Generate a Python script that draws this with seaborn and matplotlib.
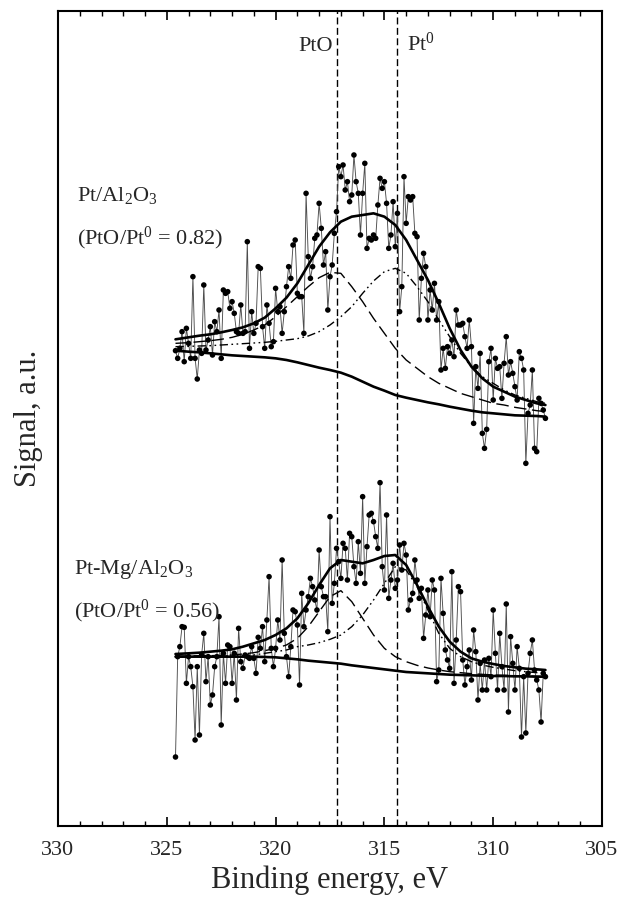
import numpy as np
import pandas as pd
import matplotlib
matplotlib.use("Agg")
import matplotlib.pyplot as plt
from matplotlib.ticker import MultipleLocator
import seaborn as sns

# ---------------- data ----------------
# measured energy grid: 324.6 -> 307.6 eV, 0.1 eV step
energy = np.round(np.arange(324.6, 307.55, -0.1), 1)

signal_pt_al = [
    1426, 1403, 1433, 1483, 1393, 1493, 1448, 1403, 1648, 1403,
    1341, 1428, 1418, 1623, 1428, 1458, 1498, 1413, 1513, 1483,
    1548, 1403, 1608, 1598, 1603, 1553, 1573, 1538, 1483, 1478,
    1563, 1478, 1483, 1753, 1433, 1543, 1478, 1508, 1678, 1673,
    1498, 1433, 1563, 1508, 1438, 1453, 1613, 1543, 1558, 1478,
    1543, 1618, 1678, 1643, 1743, 1758, 1598, 1588, 1588, 1478,
    1898, 1708, 1643, 1678, 1763, 1773, 1868, 1793, 1683, 1723,
    1548, 1648, 1683, 1778, 1843, 1978, 1948, 1983, 1908, 1933,
    1873, 1893, 2013, 1933, 1898, 1773, 1898, 1988, 1733, 1763,
    1758, 1773, 1763, 1863, 1943, 1913, 1933, 1868, 1733, 1773,
    1873, 1738, 1838, 1543, 1618, 1948, 1808, 1888, 1878, 1888,
    1778, 1768, 1518, 1643, 1718, 1678, 1518, 1608, 1548, 1628,
    1518, 1573, 1368, 1433, 1373, 1438, 1418, 1458, 1408, 1548,
    1503, 1503, 1508, 1468, 1433, 1518, 1438, 1208, 1378, 1313,
    1418, 1178, 1133, 1190, 1393, 1433, 1278, 1403, 1373, 1378,
    1283, 1388, 1468, 1353, 1393, 1358, 1318, 1278, 1423, 1403,
    1368, 1088, 1238, 1263, 1368, 1133, 1123, 1283, 1268, 1248,
    1223,
]

signal_ptmg_al = [
    207, 508, 538, 598, 596, 428, 508, 478, 418, 258,
    478, 273, 513, 578, 433, 508, 363, 393, 478, 508,
    628, 303, 518, 428, 543, 538, 428, 518, 378, 593,
    493, 473, 513, 508, 503, 538, 503, 458, 566, 533,
    598, 493, 618, 748, 533, 478, 533, 618, 558, 798,
    578, 508, 448, 538, 648, 643, 603, 423, 698, 598,
    648, 688, 743, 718, 678, 648, 828, 718, 688, 688,
    583, 928, 668, 728, 833, 793, 743, 848, 833, 738,
    878, 868, 778, 728, 853, 758, 988, 728, 838, 933,
    938, 913, 868, 833, 1030, 778, 708, 933, 683, 738,
    788, 713, 738, 843, 768, 848, 813, 648, 678, 698,
    798, 738, 683, 713, 563, 633, 708, 628, 738, 708,
    433, 468, 743, 638, 528, 498, 473, 763, 428, 558,
    718, 703, 498, 423, 478, 528, 438, 588, 523, 378,
    488, 408, 498, 408, 503, 448, 648, 518, 408, 578,
    478, 408, 666, 342, 568, 488, 408, 538, 473, 267,
    448, 279, 458, 518, 558, 468, 438, 408, 312, 458,
    448,
]

# fitted curves, read at these energies
fit_energy = [324.6, 324.0, 323.5, 323.0, 322.5, 322.0, 321.5, 321.0, 320.5,
              320.0, 319.5, 319.0, 318.5, 318.0, 317.5, 317.0, 316.5, 316.0,
              315.5, 315.0, 314.5, 314.0, 313.5, 313.0, 312.5, 312.0, 311.5,
              311.0, 310.5, 310.0, 309.5, 309.0, 308.5, 308.0, 307.6]

# Pt/Al2O3
env_a = [1460, 1466, 1471, 1475, 1481, 1488, 1496, 1508, 1525, 1553, 1585, 1628,
         1683, 1738, 1781, 1813, 1828, 1833, 1838, 1828, 1803, 1758, 1698, 1638,
         1568, 1493, 1428, 1378, 1343, 1318, 1303, 1288, 1278, 1268, 1263]
bg_a = [1426, 1423, 1421, 1418, 1415, 1412, 1410, 1408, 1406, 1403, 1398, 1391,
        1383, 1375, 1368, 1360, 1348, 1333, 1318, 1306, 1293, 1285, 1278, 1271,
        1265, 1258, 1252, 1246, 1241, 1238, 1235, 1232, 1231, 1230, 1228]
pto_a = [1448, 1450, 1453, 1456, 1460, 1466, 1475, 1488, 1503, 1528, 1558, 1588,
         1618, 1645, 1661, 1658, 1618, 1573, 1523, 1478, 1433, 1398, 1373, 1348,
         1328, 1313, 1298, 1288, 1278, 1268, 1263, 1256, 1251, 1246, 1243]
pt0_a = [1438, 1439, 1440, 1441, 1443, 1445, 1447, 1449, 1451, 1454, 1458, 1462,
         1470, 1483, 1503, 1528, 1558, 1598, 1635, 1663, 1673, 1658, 1618, 1573,
         1518, 1468, 1418, 1378, 1348, 1328, 1308, 1293, 1283, 1273, 1268]

# Pt-Mg/Al2O3
env_b = [516, 518, 520, 523, 526, 530, 538, 548, 558, 573, 593, 623, 668, 723,
         773, 798, 793, 788, 798, 810, 813, 783, 723, 658, 598, 553, 523, 503,
         493, 486, 480, 476, 472, 470, 468]
bg_b = [508, 508, 508, 508, 508, 508, 508, 508, 507, 506, 503, 500, 496, 493,
        490, 487, 482, 478, 474, 470, 466, 462, 460, 458, 456, 454, 453, 452,
        451, 450, 450, 449, 449, 448, 448]
pto_b = [510, 510, 511, 511, 512, 513, 516, 520, 526, 533, 543, 563, 598, 643,
         688, 706, 673, 623, 573, 533, 508, 493, 482, 474, 468, 463, 460, 457,
         455, 453, 452, 451, 450, 449, 448]
pt0_b = [508, 508, 509, 509, 510, 510, 511, 513, 518, 523, 528, 538, 543, 550,
         560, 573, 598, 633, 678, 728, 778, 768, 718, 648, 578, 533, 508, 493,
         483, 476, 471, 466, 463, 460, 458]

ref_lines = [317.2, 314.4]
ref_labels = ["PtO", r"Pt$\mathregular{^0}$"]
sample_labels = [r"Pt/Al$\mathregular{_2}$O$\mathregular{_3}$",
                 r"(PtO/Pt$\mathregular{^0}$ = 0.82)",
                 r"Pt-Mg/Al$\mathregular{_2}$O$\mathregular{_3}$",
                 r"(PtO/Pt$\mathregular{^0}$ = 0.56)"]
x_ticks = [330, 325, 320, 315, 310, 305]

# ---------------- plotting ----------------
sns.set_style("ticks")
plt.rcParams["font.family"] = ["Liberation Serif", "DejaVu Serif"]
plt.rcParams["axes.linewidth"] = 1.5

fig = plt.figure(figsize=(6.2, 9.06), dpi=100)
ax = fig.add_axes([58 / 620, 1 - 826 / 906, 544 / 620, 815 / 906])

for sig in (signal_pt_al, signal_ptmg_al):
    df = pd.DataFrame({"E": energy, "S": sig})
    sns.lineplot(data=df, x="E", y="S", ax=ax, sort=False, estimator=None,
                 color="0.3", lw=0.65, zorder=2)
    sns.scatterplot(data=df, x="E", y="S", ax=ax, color="k", s=16,
                    edgecolor="none", zorder=3)

fit = pd.DataFrame({"E": fit_energy, "env_a": env_a, "bg_a": bg_a,
                    "pto_a": pto_a, "pt0_a": pt0_a, "env_b": env_b,
                    "bg_b": bg_b, "pto_b": pto_b, "pt0_b": pt0_b})
for s in ("a", "b"):
    sns.lineplot(data=fit, x="E", y="env_" + s, ax=ax, sort=False, estimator=None,
                 color="k", lw=1.9, zorder=4)
    sns.lineplot(data=fit, x="E", y="bg_" + s, ax=ax, sort=False, estimator=None,
                 color="k", lw=1.9, zorder=4)
    sns.lineplot(data=fit, x="E", y="pto_" + s, ax=ax, sort=False, estimator=None,
                 color="k", lw=1.0, linestyle=(0, (9, 4)), zorder=4)
    sns.lineplot(data=fit, x="E", y="pt0_" + s, ax=ax, sort=False, estimator=None,
                 color="k", lw=1.0, linestyle=(0, (6, 2.5, 1.2, 2.5, 1.2, 2.5)),
                 zorder=4)

for xv in ref_lines:
    ax.axvline(xv, color="k", lw=1.0, linestyle=(0, (5, 2.5)), zorder=1)

ax.text(317.38, 2325, ref_labels[0], ha="right", va="baseline", fontsize=16)
ax.text(313.98, 2325, ref_labels[1], ha="left", va="baseline", fontsize=16)

ax.text(329.13, 1875, sample_labels[0], ha="left", va="baseline", fontsize=16)
ax.text(329.13, 1746, sample_labels[1], ha="left", va="baseline", fontsize=16)
ax.text(329.26, 756, sample_labels[2], ha="left", va="baseline", fontsize=16)
ax.text(329.26, 627, sample_labels[3], ha="left", va="baseline", fontsize=16)

ax.set_xlim(330, 305)
ax.set_ylim(0, 2445)
ax.set_xticks(x_ticks)
ax.set_xticklabels([str(t) for t in x_ticks])
ax.xaxis.set_minor_locator(MultipleLocator(1))
ax.set_yticks([])
ax.tick_params(axis="x", which="major", direction="in", top=True, length=6.5,
               width=1.2, labelsize=16, pad=11, color="k")
ax.tick_params(axis="x", which="minor", direction="in", top=True, length=3.3,
               width=1.0, color="k")
for sp in ax.spines.values():
    sp.set_visible(True)
    sp.set_color("k")
    sp.set_linewidth(1.5)

ax.set_xlabel("Binding energy, eV", fontsize=22, labelpad=4)
ax.set_ylabel("Signal, a.u.", fontsize=22, labelpad=11)

fig.savefig("out.png", dpi=100, facecolor="white")
